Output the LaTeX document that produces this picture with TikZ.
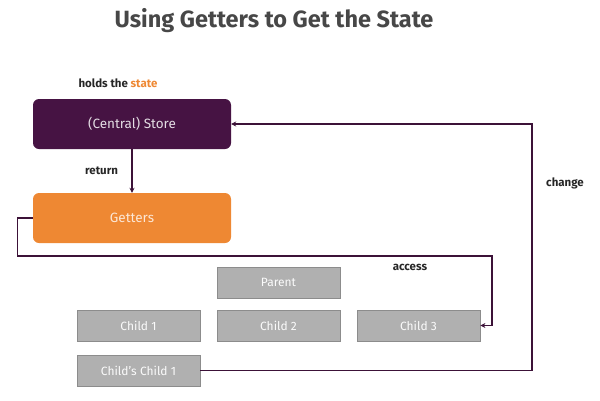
\documentclass[tikz,border=0pt]{standalone}
\usepackage{fontspec}
\setmainfont{Fira Sans}
\definecolor{storec}{HTML}{461343}
\definecolor{getc}{HTML}{EE8833}
\definecolor{kidc}{HTML}{B0B0B0}
\definecolor{linec}{HTML}{3C1238}
\usetikzlibrary{arrows.meta}
\begin{document}
\begin{tikzpicture}
    [x=1pt,y=-1pt,
     post/.style={-{Stealth[length=5pt,width=5pt]},line width=1.3pt,draw=linec},
     big/.style={rounded corners=6pt,minimum width=198pt,minimum height=50pt,font=\fontsize{13.5}{15}\selectfont},
     kid/.style={draw=black!45,line width=0.8pt,fill=kidc,minimum width=123pt,minimum height=31pt,text=white!95!kidc,font=\fontsize{12}{14}\selectfont},
     lbl/.style={font=\bfseries\fontsize{11.5}{13}\selectfont,text=black!85}]
    \useasboundingbox (0,0) rectangle (600,400);
    \node (T) at (274,21) {\bfseries\fontsize{23.5}{28}\selectfont\color{black!72}Using Getters to Get the State};
    \node [big,fill=storec,text=white!85!storec] (S) at (132,124) {(Central) Store};
    \node [lbl] (hs) at (118,83) {holds the \textcolor{getc}{state}};
    \node [big,fill=getc,text=white!80!getc] (G) at (132,218) {Getters};
    \draw [post] (S) -- node [lbl,left=10pt] {return} (G);
    \node [kid] (P) at (278.5,282.5) {Parent};
    \node [kid] (C1) at (138.5,325.5) {Child 1};
    \node [kid] (C2) at (278.5,325.5) {Child 2};
    \node [kid] (C3) at (418.5,325.5) {Child 3};
    \node [kid] (CC) at (138.5,370.5) {Child’s Child 1};
    % access path
    \coordinate (a1) at (492,256);
    \draw [post] (G.west) -- ++(-15,0) |- (a1) |- (C3.east);
    \node [lbl] (ac) at (410,267) {access};
    % change path
    \coordinate (c1) at (532,250);
    \draw [post] (CC.east) -| (c1) |- (S.east);
    \node [lbl] (ch) at (565,183) {change};
\end{tikzpicture}
\end{document}
